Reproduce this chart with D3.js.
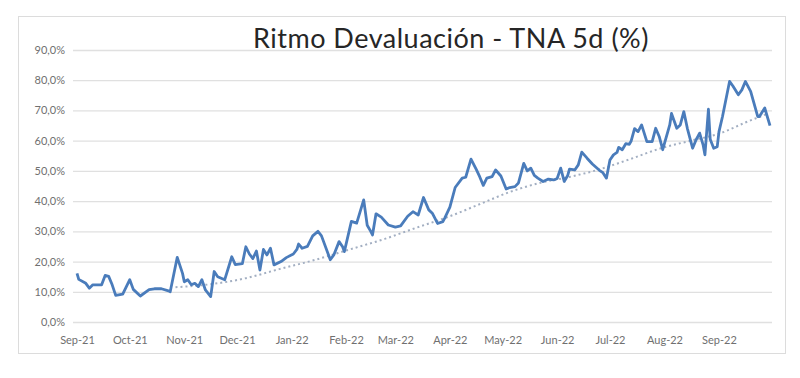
<!DOCTYPE html>
<html lang="es">
<head>
<meta charset="UTF-8">
<title>Ritmo Devaluación - TNA 5d (%)</title>
<script src="https://d3js.org/d3.v7.min.js"></script>
<style>
  body { margin: 0; background: #fff; }
  svg { display: block; }
</style>
</head>
<body>
<div id="chart"></div>
<script>
    // serie principal: fecha y valor (%)
    var fechas = [
        "2021-09-01","2021-09-02","2021-09-06","2021-09-08","2021-09-10","2021-09-15","2021-09-17","2021-09-19","2021-09-21","2021-09-23",
        "2021-09-27","2021-10-01","2021-10-03","2021-10-07","2021-10-12","2021-10-15","2021-10-19","2021-10-23","2021-10-24","2021-10-28",
        "2021-10-31","2021-11-01","2021-11-03","2021-11-05","2021-11-07","2021-11-09","2021-11-11","2021-11-13","2021-11-16","2021-11-18",
        "2021-11-20","2021-11-24","2021-11-28","2021-11-30","2021-12-04","2021-12-06","2021-12-08","2021-12-10","2021-12-12","2021-12-14",
        "2021-12-16","2021-12-18","2021-12-20","2021-12-22","2021-12-26","2021-12-29","2022-01-02","2022-01-04","2022-01-05","2022-01-07",
        "2022-01-10","2022-01-13","2022-01-16","2022-01-18","2022-01-23","2022-01-25","2022-01-28","2022-01-30","2022-01-31","2022-02-04",
        "2022-02-07","2022-02-08","2022-02-11","2022-02-13","2022-02-15","2022-02-16","2022-02-18","2022-02-21","2022-02-25","2022-03-01",
        "2022-03-04","2022-03-08","2022-03-11","2022-03-14","2022-03-17","2022-03-20","2022-03-22","2022-03-25","2022-03-28","2022-03-29",
        "2022-04-01","2022-04-04","2022-04-08","2022-04-10","2022-04-13","2022-04-16","2022-04-18","2022-04-20","2022-04-22","2022-04-25",
        "2022-04-27","2022-04-30","2022-05-03","2022-05-05","2022-05-08","2022-05-10","2022-05-13","2022-05-15","2022-05-17","2022-05-19",
        "2022-05-21","2022-05-24","2022-05-27","2022-05-30","2022-06-01","2022-06-03","2022-06-05","2022-06-07","2022-06-08","2022-06-11",
        "2022-06-13","2022-06-15","2022-06-18","2022-06-21","2022-06-25","2022-06-27","2022-06-29","2022-07-01","2022-07-03","2022-07-05",
        "2022-07-06","2022-07-08","2022-07-10","2022-07-12","2022-07-13","2022-07-15","2022-07-17","2022-07-19","2022-07-22","2022-07-25",
        "2022-07-27","2022-07-29","2022-07-31","2022-08-04","2022-08-05","2022-08-08","2022-08-10","2022-08-12","2022-08-14","2022-08-17",
        "2022-08-19","2022-08-21","2022-08-23","2022-08-24","2022-08-26","2022-08-27","2022-08-29","2022-08-31","2022-09-01","2022-09-03",
        "2022-09-07","2022-09-09","2022-09-12","2022-09-14","2022-09-16","2022-09-19","2022-09-23","2022-09-24","2022-09-27","2022-09-30"
    ];
    var valores = [
        16.1,14.1,12.8,11.2,12.3,12.3,15.4,15.1,12.3,8.8,
        9.2,14.0,10.8,8.6,10.7,11.0,11.0,10.3,10.0,21.4,
        16.1,13.3,14.0,12.3,12.8,11.7,14.0,10.6,8.4,16.7,
        15.0,14.0,21.6,19.0,19.3,24.9,22.5,21.0,23.5,17.2,
        24.0,22.2,24.4,18.9,20.0,21.3,22.5,24.0,25.8,24.4,
        25.0,28.5,30.0,28.5,20.6,22.2,26.6,24.9,23.3,33.3,
        32.7,34.6,40.4,32.0,30.0,28.8,35.8,34.7,32.1,31.4,
        31.8,35.0,36.5,35.4,41.2,37.1,36.0,32.6,33.2,34.3,
        38.0,44.5,47.6,47.9,53.9,50.5,48.0,45.2,47.6,48.1,
        50.3,48.3,44.0,44.5,44.8,46.0,52.5,50.0,50.9,48.5,
        47.6,46.5,47.3,47.0,47.5,50.9,46.5,48.5,50.6,50.3,
        52.0,56.2,54.2,52.3,50.2,49.4,47.6,53.6,55.3,56.1,
        57.8,57.0,59.0,58.8,59.8,64.0,63.0,65.2,59.7,59.7,
        64.1,61.4,57.0,65.2,69.0,64.1,65.2,69.6,64.1,57.5,
        60.3,62.5,58.5,55.3,70.4,60.5,57.5,58.0,63.0,68.0,
        79.6,78.0,75.2,76.8,79.6,76.3,68.0,68.0,70.8,65.0
    ];

    // serie punteada
    var fechasTend = [
        "2021-10-27","2021-11-16","2021-12-06","2021-12-25","2022-01-14","2022-02-03","2022-02-23","2022-03-12","2022-04-01","2022-04-18",
        "2022-05-05","2022-05-22","2022-06-08","2022-06-25","2022-07-13","2022-07-30","2022-08-16","2022-09-02","2022-09-16","2022-09-29"
    ];
    var valoresTend = [
        11.5,12.5,14.5,17.5,20.5,24.0,27.5,31.0,35.0,39.0,
        43.0,46.0,48.0,50.5,54.0,57.5,60.0,62.5,66.0,69.0
    ];

    var yTicks = [0, 10, 20, 30, 40, 50, 60, 70, 80, 90];
    var yLabels = ["0,0%","10,0%","20,0%","30,0%","40,0%","50,0%","60,0%","70,0%","80,0%","90,0%"];
    var meses = ["2021-09-01","2021-10-01","2021-11-01","2021-12-01","2022-01-01","2022-02-01","2022-03-01",
                 "2022-04-01","2022-05-01","2022-06-01","2022-07-01","2022-08-01","2022-09-01"];
    var mesLabels = ["Sep-21","Oct-21","Nov-21","Dec-21","Jan-22","Feb-22","Mar-22",
                     "Apr-22","May-22","Jun-22","Jul-22","Aug-22","Sep-22"];

    var parse = d3.timeParse("%Y-%m-%d");
    var serie = fechas.map(function(f, i) { return { date: parse(f), value: valores[i] }; });
    var tend = fechasTend.map(function(f, i) { return { date: parse(f), value: valoresTend[i] }; });

    var w = 800, h = 378;
    var svg = d3.select("#chart").append("svg")
        .attr("width", w)
        .attr("height", h);

    // tarjeta
    svg.append("rect")
        .attr("x", 18.5).attr("y", 16.5)
        .attr("width", 767).attr("height", 337)
        .attr("fill", "#fff")
        .attr("stroke", "#dcdcdc");

    var xScale = d3.scaleTime()
        .domain([parse("2021-09-01"), parse("2022-09-30")])
        .range([77, 770]);

    var yScale = d3.scaleLinear()
        .domain([0, 90])
        .range([322, 50]);

    // grilla + eje y
    var yAxis = svg.append("g")
        .attr("transform", "translate(73,0)")
        .call(d3.axisLeft(yScale)
            .tickValues(yTicks)
            .tickSize(-699)
            .tickPadding(8)
            .tickFormat(function(d, i) { return yLabels[i]; }));
    yAxis.select(".domain").remove();
    yAxis.selectAll(".tick line").attr("stroke", "#e0e0e0").attr("stroke-width", 1.3);
    yAxis.selectAll(".tick text")
        .attr("fill", "#707070")
        .style("font-family", "Lato, 'Noto Sans', sans-serif")
        .style("font-size", "11px");

    // eje x
    var xAxis = svg.append("g")
        .attr("transform", "translate(0,333)")
        .call(d3.axisBottom(xScale)
            .tickValues(meses.map(parse))
            .tickSize(0)
            .tickFormat(function(d, i) { return mesLabels[i]; }));
    xAxis.select(".domain").remove();
    xAxis.selectAll(".tick text")
        .attr("fill", "#707070")
        .style("font-family", "Lato, 'Noto Sans', sans-serif")
        .style("font-size", "11px");

    var line = d3.line()
        .x(function(d) { return xScale(d.date); })
        .y(function(d) { return yScale(d.value); });

    svg.append("path")
        .datum(tend)
        .attr("fill", "none")
        .attr("stroke", "#a3afc2")
        .attr("stroke-width", 2)
        .attr("stroke-dasharray", "2,3")
        .attr("d", line.curve(d3.curveMonotoneX));

    svg.append("path")
        .datum(serie)
        .attr("fill", "none")
        .attr("stroke", "#4a7cbb")
        .attr("stroke-width", 2.8)
        .attr("stroke-linejoin", "round")
        .attr("d", line.curve(d3.curveLinear));

    // titulo
    svg.append("text")
        .attr("x", 451)
        .attr("y", 48)
        .attr("text-anchor", "middle")
        .attr("fill", "#262626")
        .style("font-family", "Lato, 'Noto Sans', sans-serif")
        .style("font-size", "27px")
        .style("letter-spacing", "0.5px")
        .text("Ritmo Devaluación - TNA 5d (%)");
</script>
</body>
</html>
